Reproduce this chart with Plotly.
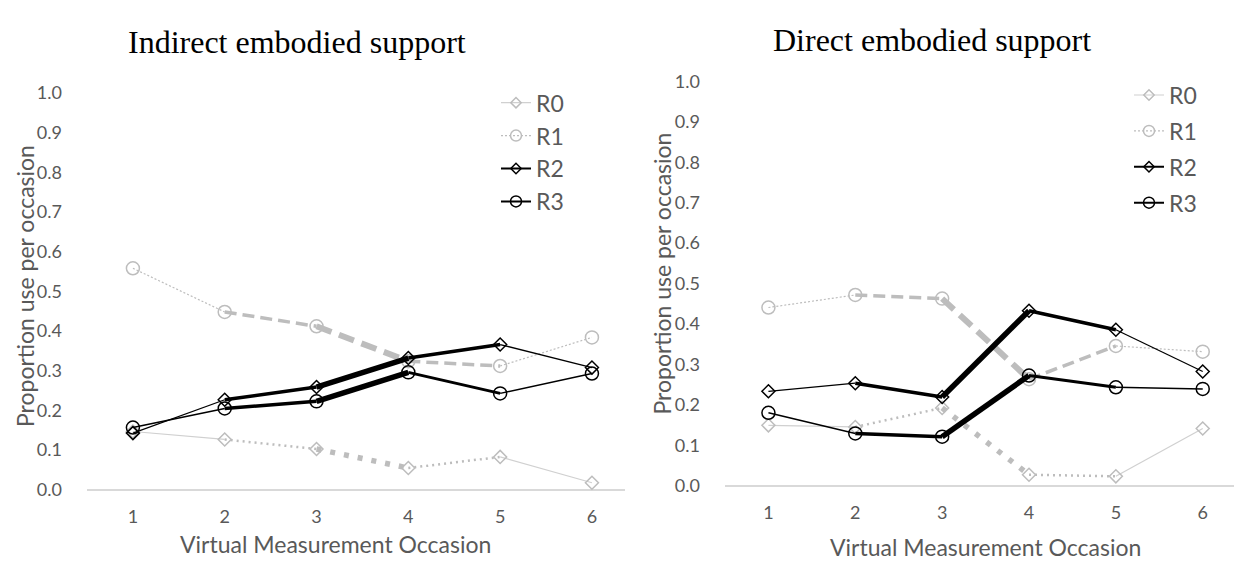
import plotly.graph_objects as go

occasions = ["1", "2", "3", "4", "5", "6"]
series_names = ["R0", "R1", "R2", "R3"]

# Indirect embodied support
indirect_R0 = [0.147, 0.127, 0.103, 0.055, 0.083, 0.018]
indirect_R1 = [0.558, 0.448, 0.412, 0.324, 0.312, 0.384]
indirect_R2 = [0.143, 0.227, 0.259, 0.332, 0.366, 0.308]
indirect_R3 = [0.157, 0.205, 0.223, 0.296, 0.243, 0.293]

# Direct embodied support
direct_R0 = [0.150, 0.146, 0.193, 0.028, 0.024, 0.142]
direct_R1 = [0.441, 0.472, 0.463, 0.264, 0.346, 0.332]
direct_R2 = [0.234, 0.254, 0.220, 0.433, 0.386, 0.283]
direct_R3 = [0.181, 0.130, 0.122, 0.273, 0.244, 0.240]

panel_titles = ["Indirect embodied support", "Direct embodied support"]
y_title = "Proportion use per occasion"
x_title = "Virtual Measurement Occasion"
y_ticks = [0.0, 0.1, 0.2, 0.3, 0.4, 0.5, 0.6, 0.7, 0.8, 0.9, 1.0]

# ---- styles (per segment between consecutive occasions) ----
GRAY_LIGHT = "#d0d0d0"
GRAY = "#bdbdbd"
BLACK = "#000000"
TXT = "#595959"

seg_style = {
    "R0": dict(color=[GRAY_LIGHT, GRAY, GRAY, GRAY, GRAY_LIGHT],
               width=[1.2, 2.5, 5.5, 2.5, 1.2],
               dash=["solid", "2px,4px", "5px,9px", "2px,4px", "solid"]),
    "R1": dict(color=[GRAY, GRAY, GRAY, GRAY, GRAY],
               width=[1.2, 3.5, 6, 3.5, 1.2],
               dash=["2px,2px", "12px,6px", "16px,8px", "12px,6px", "2px,2px"]),
    "R2": dict(color=[BLACK] * 5,
               width=[1.3, 3.5, 5.5, 3.5, 1.3],
               dash=["solid"] * 5),
    "R3": dict(color=[BLACK] * 5,
               width=[1.5, 3.5, 5.5, 3, 1.5],
               dash=["solid"] * 5),
}
marker_style = {
    "R0": dict(symbol="diamond-open", size=10, color=GRAY),
    "R1": dict(symbol="circle-open", size=13, color=GRAY),
    "R2": dict(symbol="diamond-open", size=10, color=BLACK),
    "R3": dict(symbol="circle-open", size=13, color=BLACK),
}
legend_line = {
    "R0": dict(color=GRAY_LIGHT, width=1.2, dash="solid"),
    "R1": dict(color=GRAY, width=1.2, dash="2px,2px"),
    "R2": dict(color=BLACK, width=2, dash="solid"),
    "R3": dict(color=BLACK, width=2, dash="solid"),
}

panels = [
    dict(data=[indirect_R0, indirect_R1, indirect_R2, indirect_R3], xaxis="x", yaxis="y", legend="legend"),
    dict(data=[direct_R0, direct_R1, direct_R2, direct_R3], xaxis="x2", yaxis="y2", legend="legend2"),
]

fig = go.Figure()
for p in panels:
    for name, vals in zip(series_names, p["data"]):
        st = seg_style[name]
        for i in range(len(occasions) - 1):
            fig.add_trace(go.Scatter(
                x=[i + 1, i + 2], y=[vals[i], vals[i + 1]], mode="lines",
                line=dict(color=st["color"][i], width=st["width"][i], dash=st["dash"][i]),
                xaxis=p["xaxis"], yaxis=p["yaxis"], showlegend=False,
                hoverinfo="skip", cliponaxis=False))
        ms = marker_style[name]
        fig.add_trace(go.Scatter(
            x=list(range(1, len(occasions) + 1)), y=vals, mode="markers",
            marker=dict(symbol=ms["symbol"], size=ms["size"], color=ms["color"],
                        line=dict(width=1.5, color=ms["color"])),
            xaxis=p["xaxis"], yaxis=p["yaxis"], showlegend=False, cliponaxis=False,
            name=name))
    for name in series_names:
        ms = marker_style[name]
        fig.add_trace(go.Scatter(
            x=[None], y=[None], mode="lines+markers", name=name,
            line=legend_line[name],
            marker=dict(symbol=ms["symbol"], size=ms["size"] - 2, color=ms["color"],
                        line=dict(width=1.5, color=ms["color"])),
            xaxis=p["xaxis"], yaxis=p["yaxis"], legend=p["legend"],
            legendgroup=p["legend"] + name, showlegend=True))

W, H = 1234, 572
def px_x(v):
    return v / W
def px_y(v):
    return (H - v) / H

axis_font = dict(family="Lato, 'DejaVu Sans', sans-serif", size=18, color=TXT)
xcommon = dict(tickmode="array", tickvals=list(range(1, 7)), ticktext=occasions,
               range=[0.5, 6.36], showgrid=False, zeroline=False, showline=False,
               ticks="", tickfont=axis_font, ticklabelstandoff=14, fixedrange=True)
ycommon = dict(range=[0, 1.0], tickmode="array", tickvals=y_ticks,
               ticktext=[f"{v:.1f}" for v in y_ticks], showgrid=False,
               zeroline=True, zerolinecolor="#d9d9d9", zerolinewidth=1.5,
               showline=False, ticks="", tickfont=axis_font, ticklabelstandoff=24,
               fixedrange=True)

fig.update_layout(
    width=W, height=H, margin=dict(l=0, r=0, t=0, b=0),
    paper_bgcolor="white", plot_bgcolor="white",
    xaxis=dict(domain=[px_x(87), px_x(625)], anchor="y", **xcommon),
    yaxis=dict(domain=[px_y(497), px_y(84)], anchor="x", **ycommon),
    xaxis2=dict(domain=[px_x(725), 1.0], anchor="y2", **xcommon),
    yaxis2=dict(domain=[px_y(493), px_y(72)], anchor="x2", **ycommon),
    legend=dict(x=px_x(496), y=px_y(72), xanchor="left", yanchor="top",
                font=dict(family="Lato, sans-serif", size=23, color=TXT),
                bgcolor="rgba(0,0,0,0)", tracegroupgap=0, itemclick=False),
    legend2=dict(x=px_x(1129), y=px_y(64), xanchor="left", yanchor="top",
                 font=dict(family="Lato, sans-serif", size=23, color=TXT),
                 bgcolor="rgba(0,0,0,0)", tracegroupgap=3, itemclick=False),
    showlegend=True,
)

tt_font = dict(family="Liberation Serif, 'Times New Roman', serif", size=32, color="#000")
tfont = dict(family="Lato, 'DejaVu Sans', sans-serif", size=23, color=TXT)
common = dict(xref="paper", yref="paper", showarrow=False, xanchor="center", yanchor="middle")
ann = [
    dict(text=panel_titles[0], x=px_x(297), y=px_y(31), font=tt_font, **common),
    dict(text=panel_titles[1], x=px_x(932), y=px_y(29), font=tt_font, **common),
    dict(text=y_title, x=px_x(25), y=px_y(285), textangle=-90, font=tfont, **common),
    dict(text=y_title, x=px_x(662), y=px_y(272), textangle=-90, font=tfont, **common),
    dict(text=x_title, x=px_x(335), y=px_y(553), font=tfont, **common),
    dict(text=x_title, x=px_x(985), y=px_y(556), font=tfont, **common),
]
fig.update_layout(annotations=ann)

fig.write_html("out.html", config={"displayModeBar": False},
               post_script="document.body.style.margin='0';document.body.style.overflow='hidden';")
